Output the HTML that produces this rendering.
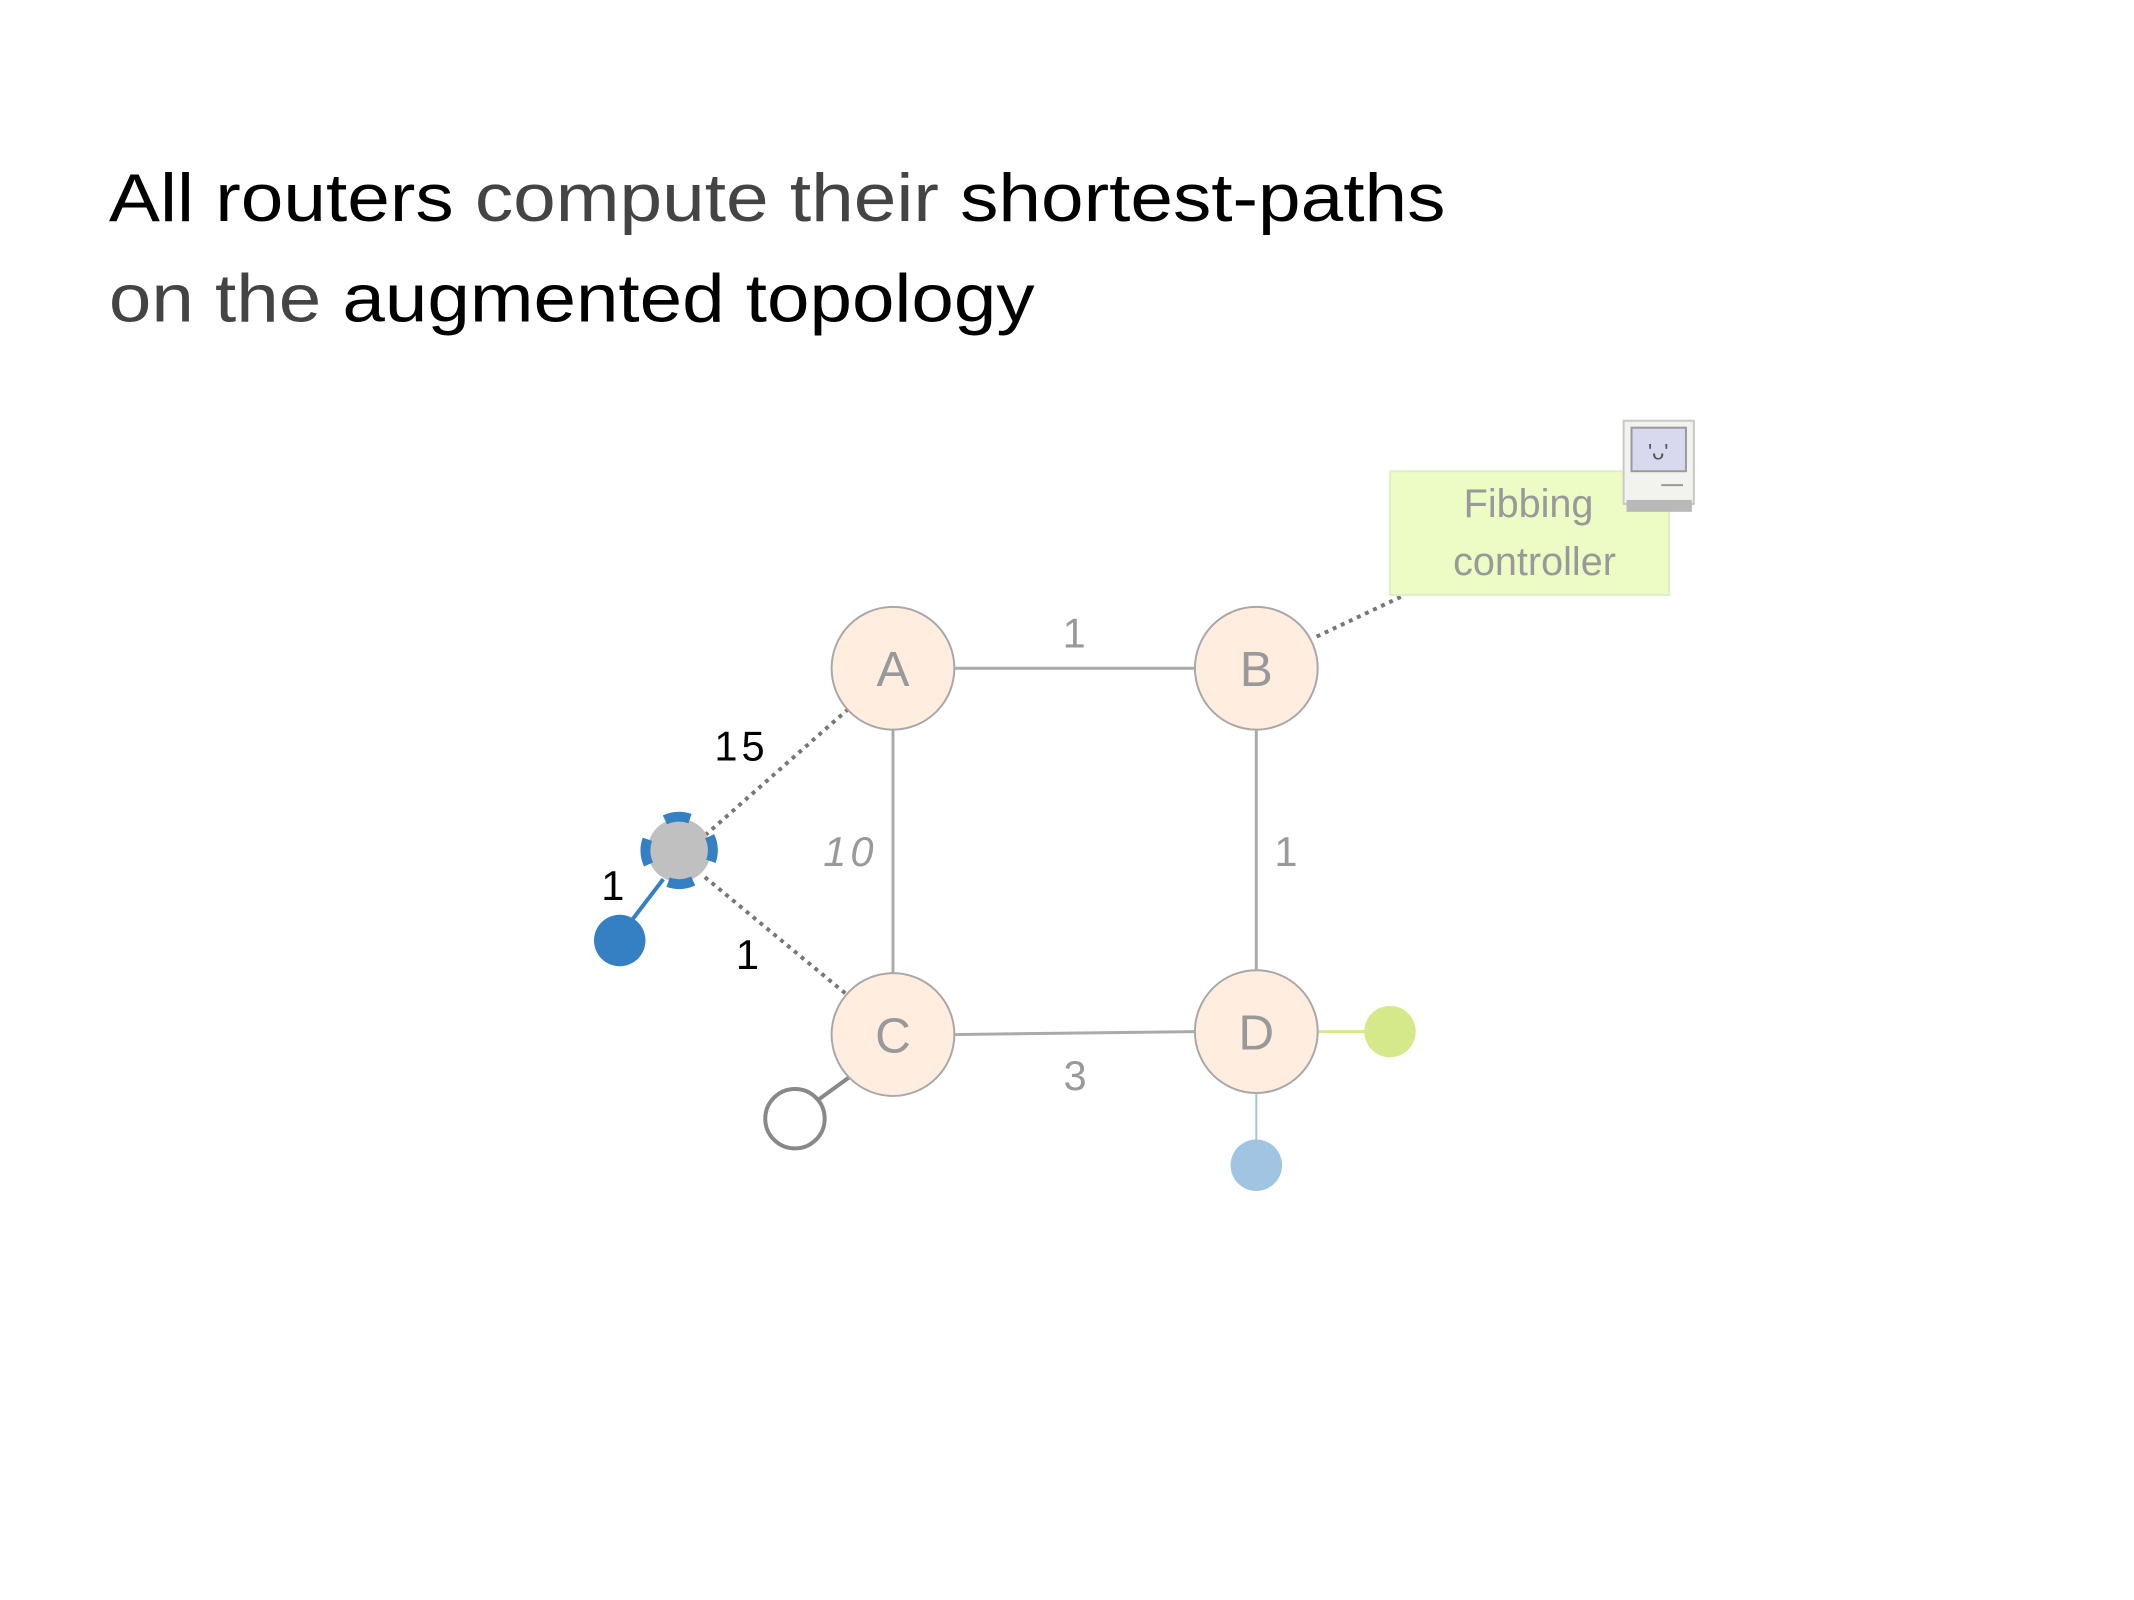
<!DOCTYPE html>
<html><head><meta charset="utf-8"><style>
html,body{margin:0;padding:0;background:#fff;}
svg{display:block;}
text{font-family:"Liberation Sans",sans-serif;}
</style></head><body>
<svg width="2134" height="1600" viewBox="0 0 2134 1600" xmlns="http://www.w3.org/2000/svg">
<g transform="scale(0.99)">
<text x="110" y="223" font-size="68" textLength="1350" lengthAdjust="spacingAndGlyphs"><tspan fill="#000">All routers </tspan><tspan fill="#444">compute their </tspan><tspan fill="#000">shortest-paths</tspan></text>
<text x="110" y="325" font-size="68" textLength="935" lengthAdjust="spacingAndGlyphs"><tspan fill="#444">on the </tspan><tspan fill="#000">augmented topology</tspan></text>

<g stroke="#aaa" stroke-width="3">
<line x1="964" y1="675" x2="1207" y2="675"/>
<line x1="902" y1="737" x2="902" y2="983"/>
<line x1="1269" y1="737" x2="1269" y2="980"/>
<line x1="964" y1="1045" x2="1207" y2="1042"/>
</g>
<line x1="1331" y1="1042" x2="1380" y2="1042" stroke="#d6e98a" stroke-width="3"/>
<line x1="1269" y1="1104" x2="1269" y2="1152" stroke="#a0c4e2" stroke-width="2"/>
<line x1="858" y1="1088" x2="825" y2="1112" stroke="#888" stroke-width="4"/>
<g stroke="#777" stroke-width="4" stroke-dasharray="4 5">
<line x1="857" y1="716" x2="712" y2="844"/>
<line x1="712" y1="886" x2="857" y2="1006"/>
<line x1="1330" y1="643" x2="1419" y2="601"/>
</g>
<line x1="670" y1="888" x2="634" y2="935" stroke="#3580c2" stroke-width="4"/>

<rect x="1404" y="476" width="282" height="125" fill="#ecfcc4" stroke="#e0eec8" stroke-width="2"/>
<text x="1544" y="522" font-size="40" fill="#999" text-anchor="middle">Fibbing</text>
<text x="1550" y="581" font-size="40" fill="#999" text-anchor="middle">controller</text>
<rect x="1640" y="425" width="71" height="84" fill="#f2f2ee" stroke="#c8c8c4" stroke-width="2"/>
<rect x="1643" y="505" width="66" height="12" fill="#b8b8b8"/>
<rect x="1648" y="432" width="55" height="44" fill="#d8d8ee" stroke="#999" stroke-width="2"/>
<text x="1675" y="464" font-size="22" fill="#555" text-anchor="middle">'ᴗ'</text>
<line x1="1678" y1="490" x2="1700" y2="490" stroke="#999" stroke-width="2"/>

<g fill="#ffeedf" stroke="#a8a8a8" stroke-width="2">
<circle cx="902" cy="675" r="62"/>
<circle cx="1269" cy="675" r="62"/>
<circle cx="902" cy="1045" r="62"/>
<circle cx="1269" cy="1042" r="62"/>
</g>
<g font-size="50" fill="#999" text-anchor="middle">
<text x="902" y="693">A</text>
<text x="1269" y="693">B</text>
<text x="902" y="1063">C</text>
<text x="1269" y="1060">D</text>
</g>
<circle cx="686" cy="859" r="32" fill="#c0c0c0"/>
<circle cx="686" cy="859" r="34" fill="none" stroke="#3580c2" stroke-width="10" stroke-dasharray="26 27.4" transform="rotate(-115 686 859)"/>
<circle cx="626" cy="950" r="26" fill="#3580c2"/>
<circle cx="1404" cy="1042" r="26" fill="#d6e98a"/>
<circle cx="1269" cy="1177" r="26" fill="#a0c4e2"/>
<circle cx="803" cy="1130" r="30" fill="#fff" stroke="#888" stroke-width="4"/>

<g font-size="42" text-anchor="middle">
<text x="1085" y="654" fill="#999">1</text>
<text x="749" y="768" fill="#000" letter-spacing="4">15</text>
<text x="859" y="875" fill="#999" font-style="italic" letter-spacing="4">10</text>
<text x="1299" y="875" fill="#999">1</text>
<text x="619" y="909" fill="#000">1</text>
<text x="755" y="979" fill="#000">1</text>
<text x="1086" y="1101" fill="#999">3</text>
</g>
</g>
</svg>
</body></html>
